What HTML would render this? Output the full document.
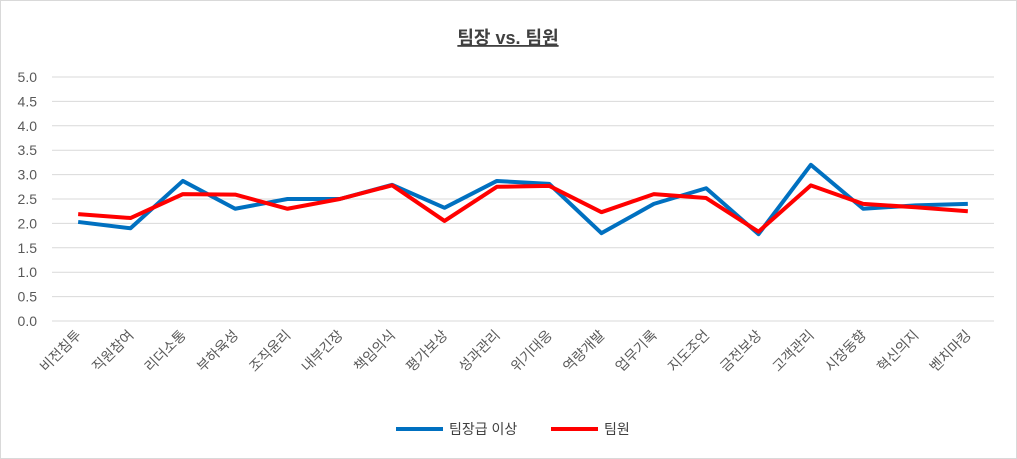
<!DOCTYPE html>
<html><head><meta charset="utf-8"><style>
body{margin:0;background:#fff;}
svg{display:block;font-family:"Liberation Sans","Noto Sans CJK KR",sans-serif;}
</style></head><body>
<svg id="chart" width="1017" height="459">
<rect x="0.5" y="0.5" width="1016" height="458" fill="#fff" stroke="#d9d9d9"/>
<text x="508" y="44" text-anchor="middle" font-size="18" font-weight="bold" fill="#404040" text-decoration="underline">팀장 vs. 팀원</text>
<g id="grid"></g><g id="ylab"></g><g id="xlab"></g><g id="series"></g>
<g>
<line x1="396" y1="429" x2="443" y2="429" stroke="#0070c0" stroke-width="4"/>
<text x="449" y="434" font-size="14" fill="#404040">팀장급 이상</text>
<line x1="551" y1="429" x2="598" y2="429" stroke="#ff0000" stroke-width="4"/>
<text x="604" y="434" font-size="14" fill="#404040">팀원</text>
</g>
</svg>
<script>
const categories=["비전침투","직원참여","리더소통","부하육성","조직윤리","내부긴장","책임의식","평가보상","성과관리","위기대응","역량개발","업무기록","지도조언","금전보상","고객관리","시장동향","혁신의지","벤치마킹"];
const leaderValues=[2.03,1.9,2.87,2.3,2.5,2.5,2.79,2.32,2.87,2.81,1.8,2.4,2.72,1.78,3.2,2.3,2.37,2.4];
const memberValues=[2.19,2.11,2.6,2.59,2.3,2.5,2.78,2.05,2.75,2.77,2.23,2.6,2.52,1.83,2.78,2.4,2.33,2.25];
const yTicks=[0,0.5,1,1.5,2,2.5,3,3.5,4,4.5,5];
const NS="http://www.w3.org/2000/svg";
const L=52,R=994,Y0=321,Y5=77;
const step=(R-L)/categories.length;
const x=i=>L+step*(i+0.5);
const y=v=>Y0-(Y0-Y5)*v/5;
function mk(t,a,p){const e=document.createElementNS(NS,t);for(const k in a)e.setAttribute(k,a[k]);p.appendChild(e);return e;}
const g=document.getElementById('grid'),yl=document.getElementById('ylab'),xl=document.getElementById('xlab'),s=document.getElementById('series');
yTicks.forEach(v=>{
 const l=mk('line',{x1:L,x2:R,y1:y(v),y2:y(v),stroke:'#d9d9d9','stroke-width':1},g);
 
 
 const t=mk('text',{x:37,y:y(v)+5,'text-anchor':'end','font-size':14,fill:'#595959'},yl);
 t.textContent=v.toFixed(1);
 
 
});
categories.forEach((c,i)=>{
 const t=mk('text',{x:x(i)+4,y:336,'text-anchor':'end','font-size':14,fill:'#595959',transform:`rotate(-45 ${x(i)+4} 336)`},xl);
 t.textContent=c;
 
 
});
function line(vals,color,name){
 const p=mk('polyline',{points:vals.map((v,i)=>x(i)+','+y(v)).join(' '),fill:'none',stroke:color,'stroke-width':4,'stroke-linejoin':'round'},s);
 
 
}
line(leaderValues,'#0070c0','leader-line');
line(memberValues,'#ff0000','member-line');
</script>
</body></html>
